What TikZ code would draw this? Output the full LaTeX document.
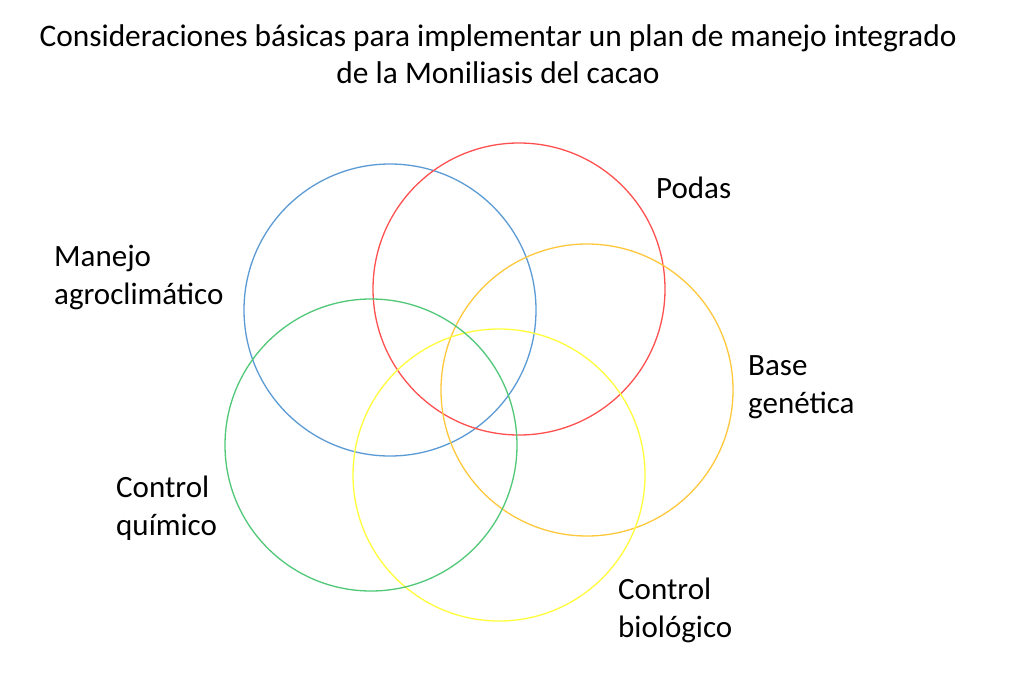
\documentclass[tikz,border=0pt]{standalone}
\usepackage{fontspec}
\setmainfont{Carlito}
\definecolor{cblue}{RGB}{91,155,213}
\definecolor{cred}{RGB}{255,80,80}
\definecolor{corange}{RGB}{255,200,60}
\definecolor{cyellow}{RGB}{255,255,60}
\definecolor{cgreen}{RGB}{80,200,120}
\begin{document}
\begin{tikzpicture}[x=1pt,y=-1pt,
  ring/.style={line width=1.3pt},
  lab/.style={font=\fontsize{31}{38}\selectfont,align=left,anchor=west,inner sep=0pt}]
\useasboundingbox (0,0) rectangle (1024,674);
\fill[white] (0,0) rectangle (1024,674);
\node[font=\fontsize{31.4}{37}\selectfont,align=center] (title) at (498,54) {Consideraciones básicas para implementar un plan de manejo integrado\\de la Moniliasis del cacao};
\draw[ring,cblue] (390,310) circle (146);
\draw[ring,cred] (519,289) circle (146);
\draw[ring,corange] (587,390) circle (146);
\draw[ring,cyellow] (499,475) circle (146);
\draw[ring,cgreen] (371,445) circle (146);
\node[lab] (p) at (656,188) {Podas};
\node[lab] (m) at (54,277) {Manejo\\agroclimático};
\node[lab] (b) at (748,387) {Base\\genética};
\node[lab] (q) at (116,508) {Control\\químico};
\node[lab] (o) at (618,610) {Control\\biológico};
\end{tikzpicture}
\end{document}
